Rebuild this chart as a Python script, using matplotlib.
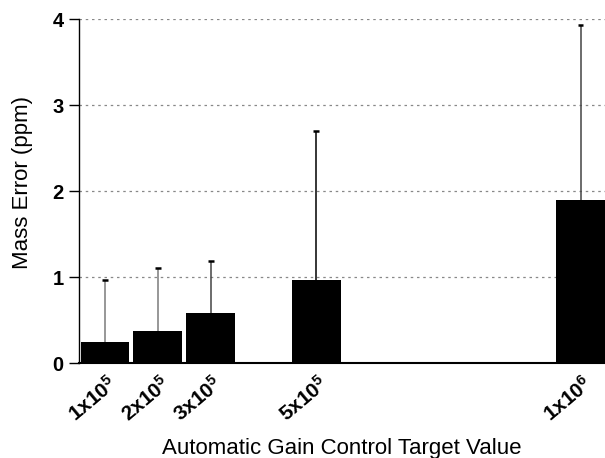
import matplotlib
matplotlib.use("Agg")
import matplotlib.pyplot as plt
import matplotlib.transforms as mtransforms

plt.rcParams['font.family'] = ['Liberation Sans', 'DejaVu Sans']
plt.rcParams['mathtext.fontset'] = 'custom'
plt.rcParams['mathtext.rm'] = 'Liberation Sans'
plt.rcParams['mathtext.bf'] = 'Liberation Sans:bold'

# Data
agc_targets = [1e5, 2e5, 3e5, 5e5, 1e6]
tick_labels = [r'$\mathbf{1x10^{5}}$', r'$\mathbf{2x10^{5}}$', r'$\mathbf{3x10^{5}}$',
               r'$\mathbf{5x10^{5}}$', r'$\mathbf{1x10^{6}}$']
mass_error = [0.24, 0.37, 0.58, 0.96, 1.90]
error_upper = [0.72, 0.74, 0.61, 1.74, 2.03]
err_colors = ['#7a7a7a', '#7a7a7a', '#444444', '#000000', '#444444']

fig = plt.figure(figsize=(6.05, 4.58), dpi=100)
ax = fig.add_axes([0.1306, 0.2074, 0.8694, 0.7511])

bar_w = 0.92e5
ax.bar(agc_targets, mass_error, width=bar_w, color='black', zorder=3)
for x, y, e, c in zip(agc_targets, mass_error, error_upper, err_colors):
    ax.errorbar([x], [y], yerr=[[0], [e]], fmt='none', ecolor=c, elinewidth=1.1,
                capsize=0, zorder=2)
for x, y, e in zip(agc_targets, mass_error, error_upper):
    ax.plot([x - 0.055e5, x + 0.055e5], [y + e, y + e], color='black', lw=1.8,
            solid_capstyle='butt', zorder=2.5)

ax.set_xlim(0.51e5, 1.0462e6)
ax.set_ylim(0, 4)
ax.set_yticks([0, 1, 2, 3, 4])
ax.set_yticklabels(['0', '1', '2', '3', '4'], fontsize=14.5, fontweight='bold')
ax.set_xticks(agc_targets)
ax.set_xticklabels(tick_labels, rotation=40, ha='right', rotation_mode='anchor', fontsize=15)
ax.tick_params(axis='x', length=0, pad=7)
ax.tick_params(axis='y', length=7, width=1, direction='out', pad=4)

ax.yaxis.grid(True, linestyle=(0, (2, 3)), color='#888888', linewidth=0.9, zorder=0)
ax.set_axisbelow(True)
for s in ['top', 'right']:
    ax.spines[s].set_visible(False)
ax.spines['left'].set_linewidth(1)
ax.spines['bottom'].set_linewidth(1.5)

ax.set_ylabel('Mass Error (ppm)', fontsize=16)
ax.set_xlabel('Automatic Gain Control Target Value', fontsize=16)
ax.yaxis.set_label_coords(-0.087, 0.526)
ax.xaxis.set_label_coords(0.5, -0.218)

offset = mtransforms.ScaledTranslation(2 / 100, 0, fig.dpi_scale_trans)
for lbl in ax.get_xticklabels():
    lbl.set_transform(lbl.get_transform() + offset)

fig.savefig('out.png', dpi=100)
